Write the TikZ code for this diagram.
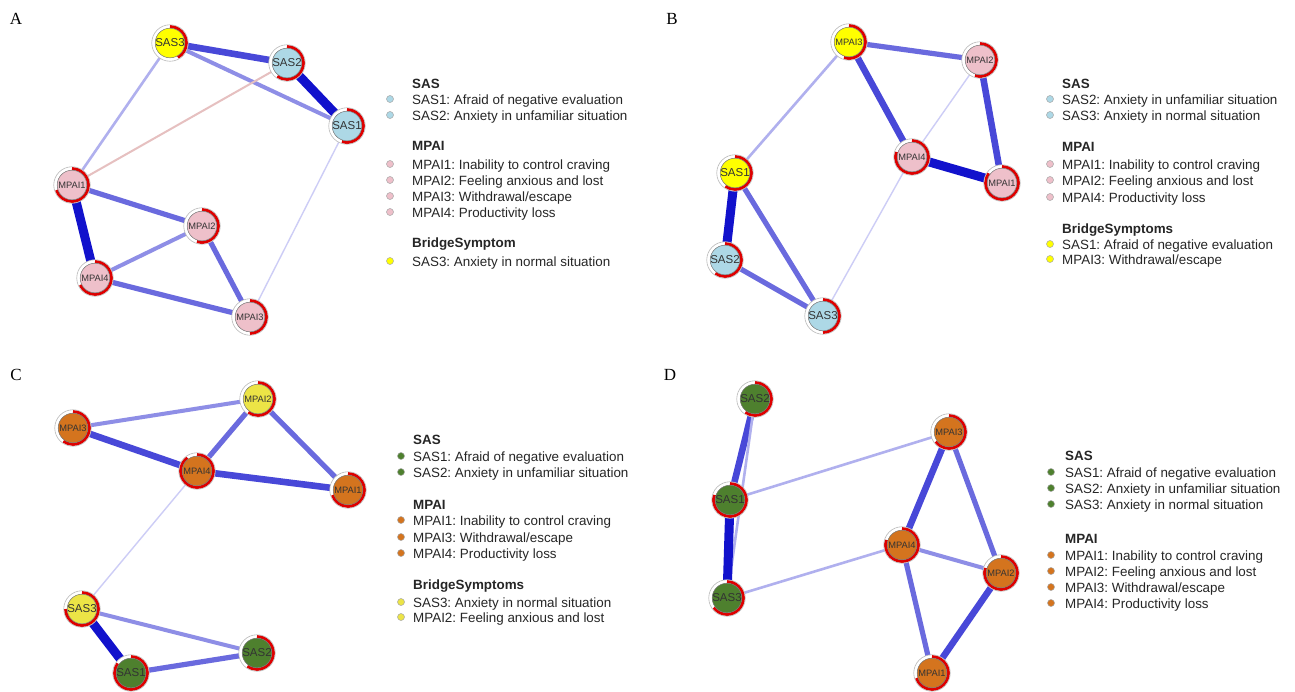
\documentclass[tikz,border=0pt]{standalone}
\usepackage{fontspec}
\setmainfont{Liberation Serif}
\setsansfont{Liberation Sans}
\frenchspacing
\pgfdeclarelayer{bg}
\pgfsetlayers{bg,main}

\definecolor{sasblue}{RGB}{173,216,230}
\definecolor{mpaipink}{RGB}{238,192,202}
\definecolor{bridgey}{RGB}{255,255,0}
\definecolor{bridgeyc}{RGB}{236,228,70}
\definecolor{sasgreen}{RGB}{78,128,46}
\definecolor{mpaiorange}{RGB}{212,116,30}
\definecolor{pieRed}{RGB}{222,0,0}
\definecolor{ew1}{RGB}{205,205,246}
\definecolor{ew2}{RGB}{176,176,238}
\definecolor{ew3}{RGB}{142,142,230}
\definecolor{ew4}{RGB}{106,106,222}
\definecolor{ew5}{RGB}{72,72,216}
\definecolor{ew6}{RGB}{18,18,204}
\definecolor{eneg}{RGB}{230,192,192}

\begin{document}
\begin{tikzpicture}[x=1pt,y=-1pt,
  sym/.style 2 args={circle,draw=gray!55,line width=.6pt,fill=white,minimum size=36.5pt,inner sep=0pt,
    font=\sffamily\fontsize{11.5}{11}\selectfont,text=black!80,
    path picture={
      \draw[pieRed,line width=3pt,x=1pt,y=1pt] ([shift={(0,16.4)}]path picture bounding box.center)
        arc[start angle=90,end angle={90-360*#2},radius=16.4];
      \draw[black!55,line width=.5pt,fill=#1] (path picture bounding box.center) circle[radius=14.8pt];}},
  mp/.style={font=\sffamily\fontsize{9.3}{9}\selectfont},
  e1/.style={ew1,line width=1.4pt},
  e2/.style={ew2,line width=2.6pt},
  e3/.style={ew3,line width=4pt},
  e4/.style={ew4,line width=5.2pt},
  e5/.style={ew5,line width=6.6pt},
  e6/.style={ew6,line width=9pt},
  neg/.style={eneg,line width=2pt},
  dot/.style={circle,draw=gray!70,line width=.5pt,minimum size=7pt,inner sep=0pt},
  lab/.style={anchor=base west,inner sep=0pt,text=black!85,font=\sffamily\fontsize{13.4}{16}\selectfont},
  head/.style={lab,font=\sffamily\bfseries\fontsize{13.4}{16}\selectfont},
  panel/.style={font=\rmfamily\fontsize{17}{17}\selectfont}
]
  \useasboundingbox (0,0) rectangle (1295,691);

  % A
  \node[panel] (pA) at (16,19) {A};
  \node[sym={sasblue}{.55}] (A-SAS1) at (347,126) {SAS1};
  \node[sym={sasblue}{.6}] (A-SAS2) at (287,63) {SAS2};
  \node[sym={bridgey}{.42}] (A-SAS3) at (170,43) {SAS3};
  \node[sym={mpaipink}{.7},mp] (A-MPAI1) at (72,185) {MPAI1};
  \node[sym={mpaipink}{.55},mp] (A-MPAI2) at (202,226) {MPAI2};
  \node[sym={mpaipink}{.5},mp] (A-MPAI3) at (250,317) {MPAI3};
  \node[sym={mpaipink}{.68},mp] (A-MPAI4) at (95,278) {MPAI4};

  \node[head] (A-h1) at (412,88) {SAS};
  \node[dot,fill=sasblue] (A-d1) at (390,99) {};
  \node[lab] (A-l1) at (412,104) {SAS1: Afraid of negative evaluation};
  \node[dot,fill=sasblue] (A-d2) at (390,115) {};
  \node[lab] (A-l2) at (412,120) {SAS2: Anxiety in unfamiliar situation};
  \node[head] (A-h2) at (412,150) {MPAI};
  \node[dot,fill=mpaipink] (A-d3) at (390,164) {};
  \node[lab] (A-l3) at (412,169) {MPAI1: Inability to control craving};
  \node[dot,fill=mpaipink] (A-d4) at (390,180) {};
  \node[lab] (A-l4) at (412,185) {MPAI2: Feeling anxious and lost};
  \node[dot,fill=mpaipink] (A-d5) at (390,196) {};
  \node[lab] (A-l5) at (412,201) {MPAI3: Withdrawal/escape};
  \node[dot,fill=mpaipink] (A-d6) at (390,212) {};
  \node[lab] (A-l6) at (412,217) {MPAI4: Productivity loss};
  \node[head] (A-h3) at (412,247) {BridgeSymptom};
  \node[dot,fill=bridgey] (A-d7) at (390,261) {};
  \node[lab] (A-l7) at (412,266) {SAS3: Anxiety in normal situation};

  % B
  \node[panel] (pB) at (672,19) {B};
  \node[sym={bridgey}{.6}] (B-SAS1) at (735,173) {SAS1};
  \node[sym={sasblue}{.6}] (B-SAS2) at (725,260) {SAS2};
  \node[sym={sasblue}{.5}] (B-SAS3) at (823,316) {SAS3};
  \node[sym={mpaipink}{.85},mp] (B-MPAI1) at (1002,183) {MPAI1};
  \node[sym={mpaipink}{.55},mp] (B-MPAI2) at (980,60) {MPAI2};
  \node[sym={bridgey}{.55},mp] (B-MPAI3) at (849,42) {MPAI3};
  \node[sym={mpaipink}{.8},mp] (B-MPAI4) at (912,157) {MPAI4};

  \node[head] (B-h1) at (1062,88) {SAS};
  \node[dot,fill=sasblue] (B-d1) at (1050,99) {};
  \node[lab] (B-l1) at (1062,104) {SAS2: Anxiety in unfamiliar situation};
  \node[dot,fill=sasblue] (B-d2) at (1050,115) {};
  \node[lab] (B-l2) at (1062,120) {SAS3: Anxiety in normal situation};
  \node[head] (B-h2) at (1062,151) {MPAI};
  \node[dot,fill=mpaipink] (B-d3) at (1050,164) {};
  \node[lab] (B-l3) at (1062,169) {MPAI1: Inability to control craving};
  \node[dot,fill=mpaipink] (B-d4) at (1050,180) {};
  \node[lab] (B-l4) at (1062,185) {MPAI2: Feeling anxious and lost};
  \node[dot,fill=mpaipink] (B-d5) at (1050,197) {};
  \node[lab] (B-l5) at (1062,202) {MPAI4: Productivity loss};
  \node[head] (B-h3) at (1062,233) {BridgeSymptoms};
  \node[dot,fill=bridgey] (B-d6) at (1050,244) {};
  \node[lab] (B-l6) at (1062,249) {SAS1: Afraid of negative evaluation};
  \node[dot,fill=bridgey] (B-d7) at (1050,259) {};
  \node[lab] (B-l7) at (1062,264) {MPAI3: Withdrawal/escape};

  % C
  \node[panel] (pC) at (16,375) {C};
  \node[sym={sasgreen}{.85}] (C-SAS1) at (131,673) {SAS1};
  \node[sym={sasgreen}{.6}] (C-SAS2) at (257,653) {SAS2};
  \node[sym={bridgeyc}{.75}] (C-SAS3) at (82,609) {SAS3};
  \node[sym={mpaiorange}{.7},mp] (C-MPAI1) at (348,490) {MPAI1};
  \node[sym={bridgeyc}{.6},mp] (C-MPAI2) at (258,399) {MPAI2};
  \node[sym={mpaiorange}{.6},mp] (C-MPAI3) at (73,428) {MPAI3};
  \node[sym={mpaiorange}{.9},mp] (C-MPAI4) at (197,471) {MPAI4};

  \node[head] (C-h1) at (413,444) {SAS};
  \node[dot,fill=sasgreen] (C-d1) at (401,456) {};
  \node[lab] (C-l1) at (413,461) {SAS1: Afraid of negative evaluation};
  \node[dot,fill=sasgreen] (C-d2) at (401,472) {};
  \node[lab] (C-l2) at (413,477) {SAS2: Anxiety in unfamiliar situation};
  \node[head] (C-h2) at (413,509) {MPAI};
  \node[dot,fill=mpaiorange] (C-d3) at (401,520) {};
  \node[lab] (C-l3) at (413,525) {MPAI1: Inability to control craving};
  \node[dot,fill=mpaiorange] (C-d4) at (401,537) {};
  \node[lab] (C-l4) at (413,542) {MPAI3: Withdrawal/escape};
  \node[dot,fill=mpaiorange] (C-d5) at (401,553) {};
  \node[lab] (C-l5) at (413,558) {MPAI4: Productivity loss};
  \node[head] (C-h3) at (413,589) {BridgeSymptoms};
  \node[dot,fill=bridgeyc] (C-d6) at (401,602) {};
  \node[lab] (C-l6) at (413,607) {SAS3: Anxiety in normal situation};
  \node[dot,fill=bridgeyc] (C-d7) at (401,617) {};
  \node[lab] (C-l7) at (413,622) {MPAI2: Feeling anxious and lost};

  % D
  \node[panel] (pD) at (670,375) {D};
  \node[sym={sasgreen}{.8}] (D-SAS1) at (730,500) {SAS1};
  \node[sym={sasgreen}{.6}] (D-SAS2) at (755,399) {SAS2};
  \node[sym={sasgreen}{.65}] (D-SAS3) at (727,598) {SAS3};
  \node[sym={mpaiorange}{.7},mp] (D-MPAI1) at (932,673) {MPAI1};
  \node[sym={mpaiorange}{.8},mp] (D-MPAI2) at (1001,573) {MPAI2};
  \node[sym={mpaiorange}{.65},mp] (D-MPAI3) at (949,432) {MPAI3};
  \node[sym={mpaiorange}{.8},mp] (D-MPAI4) at (902,545) {MPAI4};

  \node[head] (D-h1) at (1065,460) {SAS};
  \node[dot,fill=sasgreen] (D-d1) at (1051,472) {};
  \node[lab] (D-l1) at (1065,477) {SAS1: Afraid of negative evaluation};
  \node[dot,fill=sasgreen] (D-d2) at (1051,488) {};
  \node[lab] (D-l2) at (1065,493) {SAS2: Anxiety in unfamiliar situation};
  \node[dot,fill=sasgreen] (D-d3) at (1051,504) {};
  \node[lab] (D-l3) at (1065,509) {SAS3: Anxiety in normal situation};
  \node[head] (D-h2) at (1065,543) {MPAI};
  \node[dot,fill=mpaiorange] (D-d4) at (1051,555) {};
  \node[lab] (D-l4) at (1065,560) {MPAI1: Inability to control craving};
  \node[dot,fill=mpaiorange] (D-d5) at (1051,571) {};
  \node[lab] (D-l5) at (1065,576) {MPAI2: Feeling anxious and lost};
  \node[dot,fill=mpaiorange] (D-d6) at (1051,587) {};
  \node[lab] (D-l6) at (1065,592) {MPAI3: Withdrawal/escape};
  \node[dot,fill=mpaiorange] (D-d7) at (1051,603) {};
  \node[lab] (D-l7) at (1065,608) {MPAI4: Productivity loss};

  \begin{pgfonlayer}{bg}
    \fill[white] (0,0) rectangle (1295,691);
    % A edges
    \draw[e5] (A-SAS3.center) -- (A-SAS2.center);
    \draw[e3] (A-SAS3.center) -- (A-SAS1.center);
    \draw[e6] (A-SAS2.center) -- (A-SAS1.center);
    \draw[e2] (A-SAS3.center) -- (A-MPAI1.center);
    \draw[neg] (A-SAS2.center) -- (A-MPAI1.center);
    \draw[e1] (A-SAS1.center) -- (A-MPAI3.center);
    \draw[e4] (A-MPAI1.center) -- (A-MPAI2.center);
    \draw[e6] (A-MPAI1.center) -- (A-MPAI4.center);
    \draw[e3] (A-MPAI2.center) -- (A-MPAI4.center);
    \draw[e4] (A-MPAI2.center) -- (A-MPAI3.center);
    \draw[e4] (A-MPAI4.center) -- (A-MPAI3.center);
    % B edges
    \draw[e4] (B-MPAI3.center) -- (B-MPAI2.center);
    \draw[e5] (B-MPAI3.center) -- (B-MPAI4.center);
    \draw[e5] (B-MPAI2.center) -- (B-MPAI1.center);
    \draw[e6] (B-MPAI4.center) -- (B-MPAI1.center);
    \draw[e1] (B-MPAI2.center) -- (B-MPAI4.center);
    \draw[e1] (B-MPAI4.center) -- (B-SAS3.center);
    \draw[e2] (B-MPAI3.center) -- (B-SAS1.center);
    \draw[e6] (B-SAS1.center) -- (B-SAS2.center);
    \draw[e4] (B-SAS1.center) -- (B-SAS3.center);
    \draw[e4] (B-SAS2.center) -- (B-SAS3.center);
    % C edges
    \draw[e3] (C-MPAI3.center) -- (C-MPAI2.center);
    \draw[e5] (C-MPAI3.center) -- (C-MPAI4.center);
    \draw[e4] (C-MPAI2.center) -- (C-MPAI4.center);
    \draw[e4] (C-MPAI2.center) -- (C-MPAI1.center);
    \draw[e5] (C-MPAI4.center) -- (C-MPAI1.center);
    \draw[e1] (C-MPAI4.center) -- (C-SAS3.center);
    \draw[e6] (C-SAS3.center) -- (C-SAS1.center);
    \draw[e3] (C-SAS3.center) -- (C-SAS2.center);
    \draw[e4] (C-SAS1.center) -- (C-SAS2.center);
    % D edges
    \draw[e5] (D-SAS2.center) -- (D-SAS1.center);
    \draw[e2] (D-SAS2.center) -- (D-SAS3.center);
    \draw[e6] (D-SAS1.center) -- (D-SAS3.center);
    \draw[e2] (D-SAS1.center) -- (D-MPAI3.center);
    \draw[e2] (D-SAS3.center) -- (D-MPAI4.center);
    \draw[e5] (D-MPAI3.center) -- (D-MPAI4.center);
    \draw[e4] (D-MPAI3.center) -- (D-MPAI2.center);
    \draw[e3] (D-MPAI4.center) -- (D-MPAI2.center);
    \draw[e4] (D-MPAI4.center) -- (D-MPAI1.center);
    \draw[e5] (D-MPAI2.center) -- (D-MPAI1.center);
  \end{pgfonlayer}
\end{tikzpicture}
\end{document}
